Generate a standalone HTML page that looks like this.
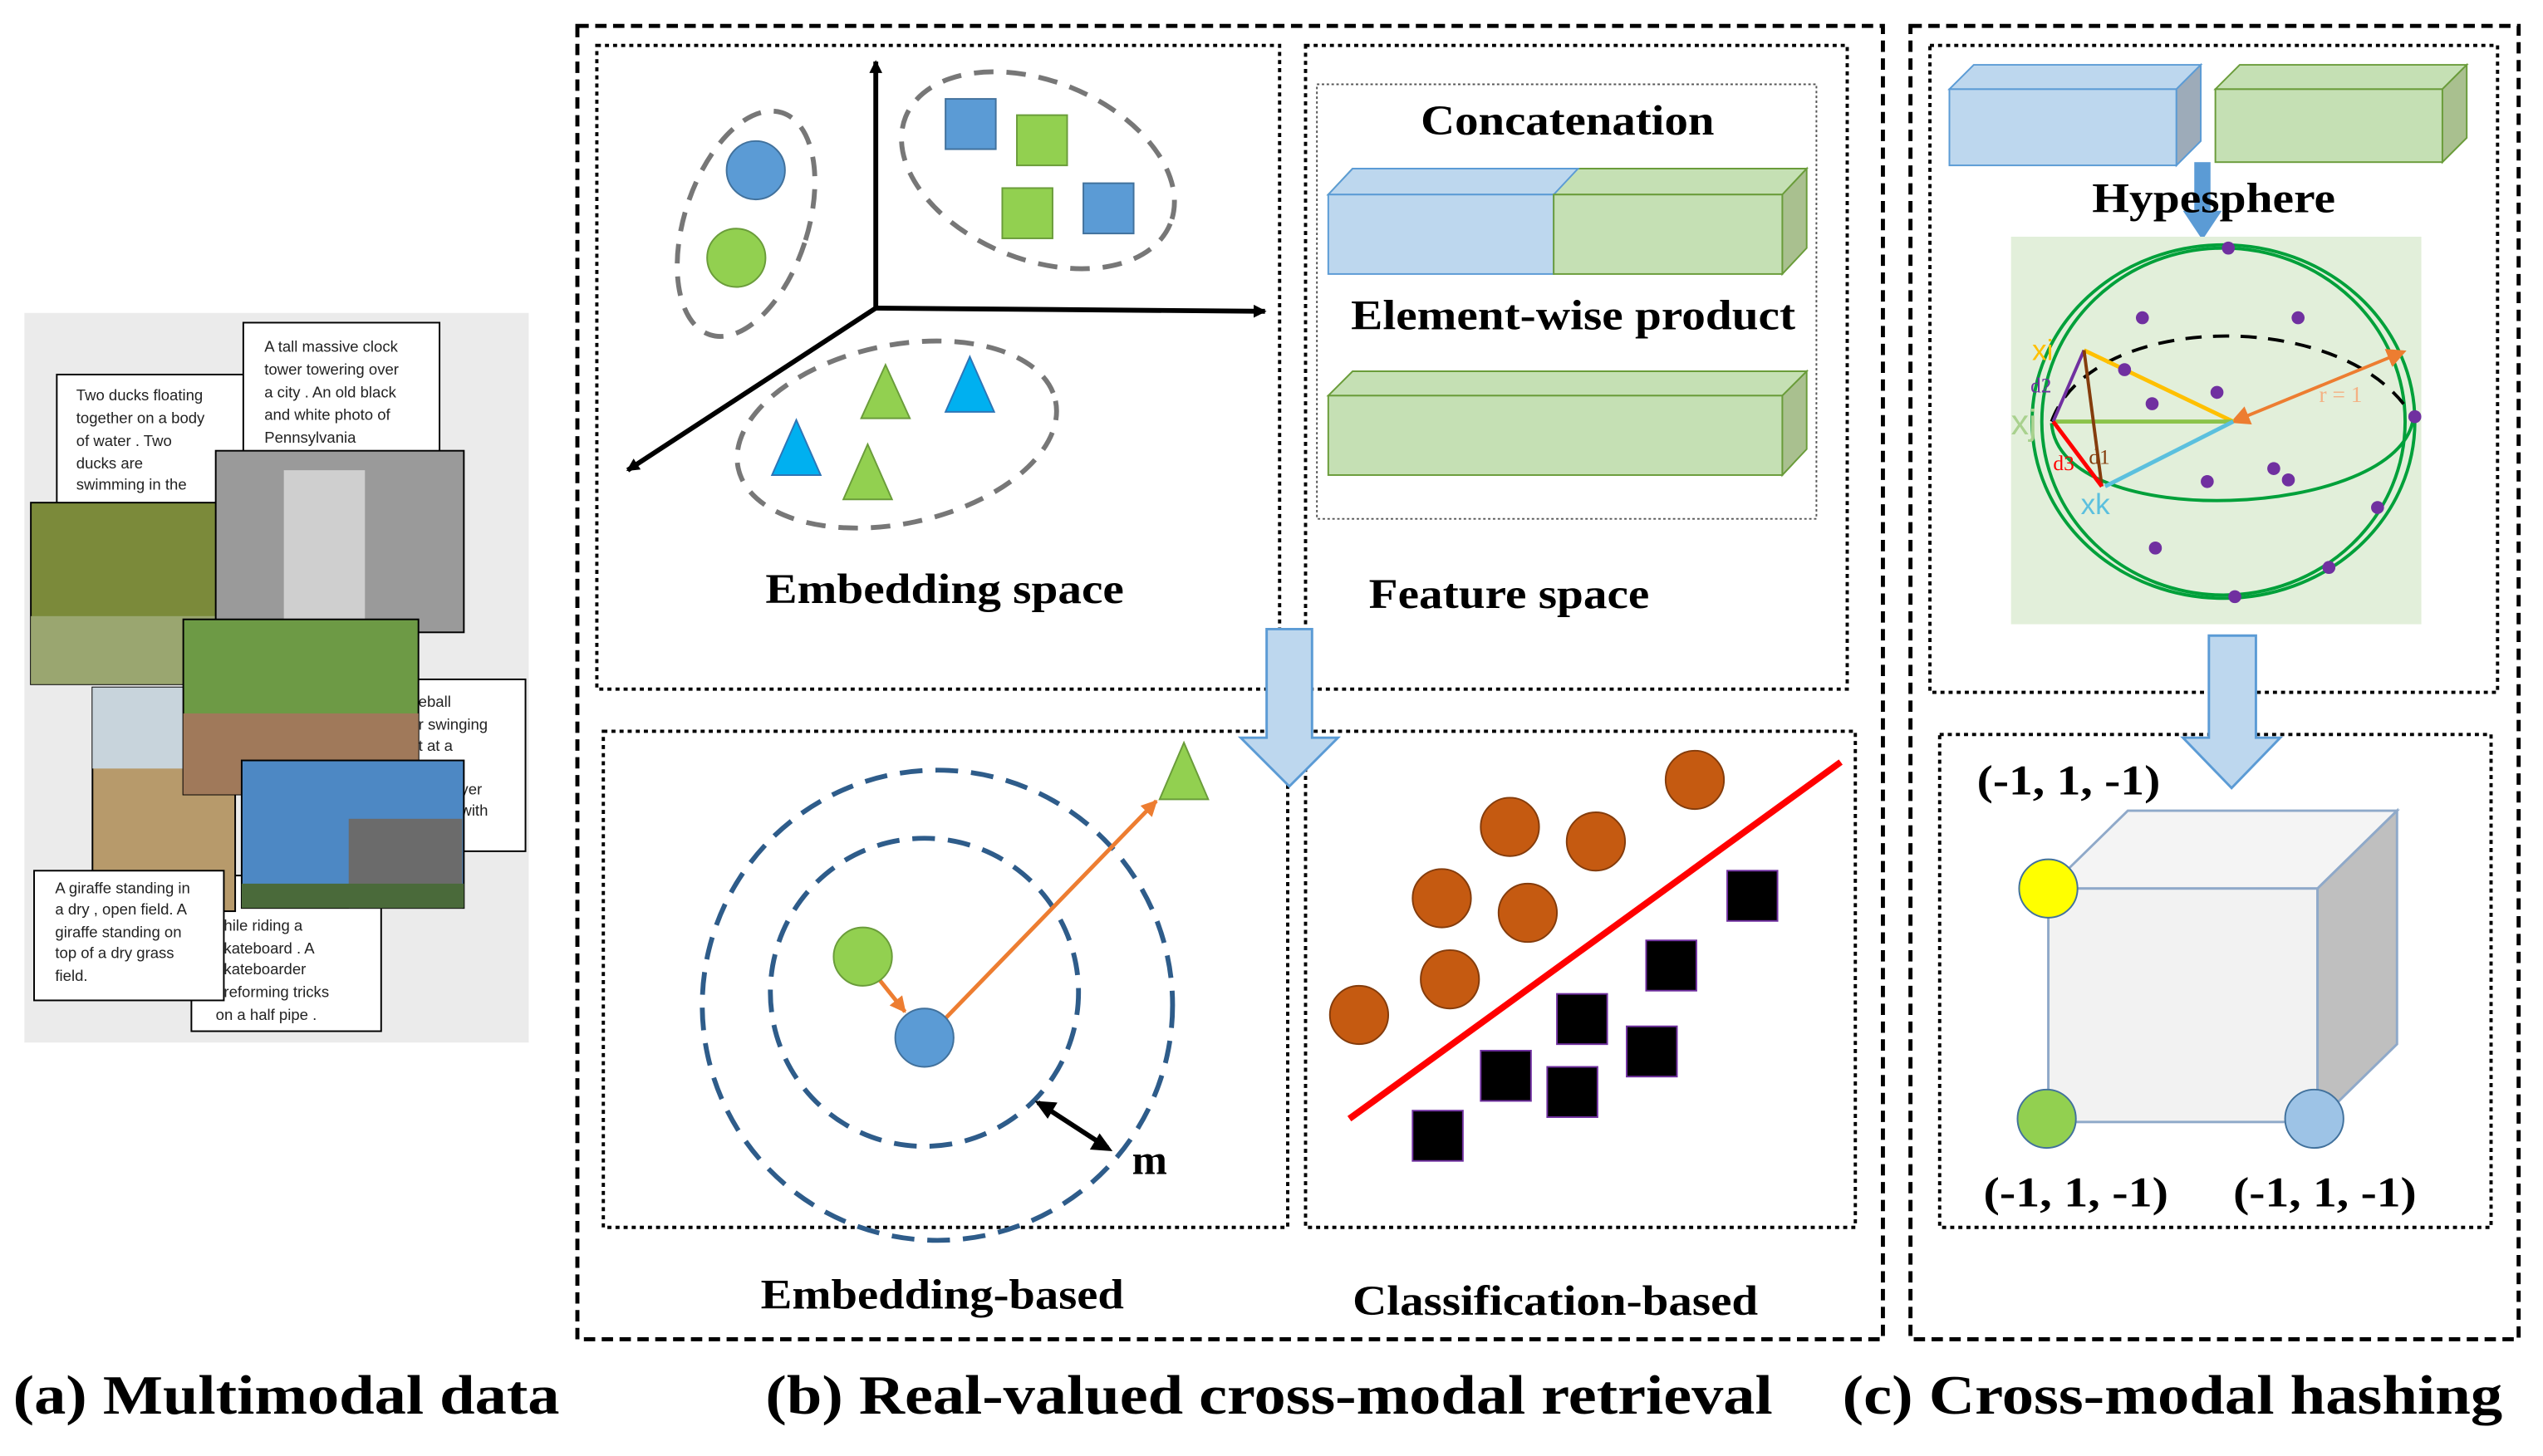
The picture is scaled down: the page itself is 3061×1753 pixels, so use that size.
<!DOCTYPE html>
<html><head><meta charset="utf-8"><style>html,body{margin:0;padding:0;background:#fff}svg{display:block}</style></head><body>
<svg width="3061" height="1753" viewBox="0 0 1568 898" xmlns="http://www.w3.org/2000/svg" font-family="'Liberation Serif',serif">
<defs>
<marker id="ab" markerWidth="8" markerHeight="8" refX="7" refY="4" orient="auto" markerUnits="userSpaceOnUse"><path d="M0,0 L8,4 L0,8z" fill="#000"/></marker>
<marker id="ao" markerWidth="10" markerHeight="10" refX="9" refY="5" orient="auto" markerUnits="userSpaceOnUse"><path d="M0,0 L10,5 L0,10z" fill="#ed7d31"/></marker>
<marker id="ao2" markerWidth="12" markerHeight="12" refX="10" refY="6" orient="auto-start-reverse" markerUnits="userSpaceOnUse"><path d="M0,0 L12,6 L0,12z" fill="#ed7d31"/></marker>
</defs>
<!-- (a) -->
<rect x="15" y="193" width="311" height="450" fill="#ebebeb"/>
<g font-family="'Liberation Sans',sans-serif" font-size="9.5" fill="#222">
<rect x="35" y="231" width="118" height="110" fill="#fff" stroke="#000"/>
<text x="47" y="247">Two ducks floating</text><text x="47" y="261">together on a body</text><text x="47" y="275">of water . Two</text><text x="47" y="289">ducks are</text><text x="47" y="302">swimming in the</text>
<rect x="150" y="199" width="121" height="110" fill="#fff" stroke="#000"/>
<text x="163" y="217">A tall massive clock</text><text x="163" y="231">tower towering over</text><text x="163" y="245">a city . An old black</text><text x="163" y="259">and white photo of</text><text x="163" y="273">Pennsylvania</text>
<rect x="240" y="419" width="84" height="106" fill="#fff" stroke="#000"/>
<text x="258" y="436">eball</text><text x="258" y="450">r swinging</text><text x="258" y="463">t at a</text><text x="284" y="490">yer</text><text x="284" y="503">with</text>
<rect x="118" y="540" width="117" height="96" fill="#fff" stroke="#000"/>
<text x="138" y="574">hile riding a</text><text x="138" y="588">kateboard . A</text><text x="138" y="601">kateboarder</text><text x="138" y="615">reforming tricks</text><text x="133" y="629">on a half pipe .</text>
</g>
<rect x="19" y="310" width="185" height="112" fill="#7b8a3a" stroke="#000"/>
<rect x="19" y="380" width="185" height="42" fill="#9aa670"/>
<rect x="133" y="278" width="153" height="112" fill="#9a9a9a" stroke="#000"/>
<rect x="175" y="290" width="50" height="100" fill="#cfcfcf"/>
<rect x="57" y="424" width="88" height="138" fill="#b79a6b" stroke="#000"/>
<rect x="57" y="424" width="88" height="50" fill="#c8d4dc"/>
<rect x="113" y="382" width="145" height="108" fill="#6d9a45" stroke="#000"/>
<rect x="113" y="440" width="145" height="50" fill="#a0795a"/>
<g font-family="'Liberation Sans',sans-serif" font-size="9.5" fill="#222">
<rect x="21" y="537" width="117" height="80" fill="#fff" stroke="#000"/>
<text x="34" y="551">A giraffe standing in</text>
<text x="34" y="564">a dry , open field. A</text><text x="34" y="578">giraffe standing on</text><text x="34" y="591">top of a dry grass</text><text x="34" y="605">field.</text>
</g>
<rect x="149" y="469" width="137" height="91" fill="#4d88c4" stroke="#000"/>
<rect x="215" y="505" width="70" height="55" fill="#6b6b6b"/>
<rect x="149" y="545" width="137" height="15" fill="#4a6a3a"/>

<!-- (b) frames -->
<rect x="356" y="16" width="805" height="810" fill="none" stroke="#000" stroke-width="2.5" stroke-dasharray="7,4"/>
<g fill="none" stroke="#000" stroke-width="2" stroke-dasharray="2.5,2.5">
<rect x="368" y="28" width="421" height="397"/>
<rect x="805" y="28" width="334" height="397"/>
<rect x="372" y="451" width="422" height="306"/>
<rect x="805" y="451" width="339" height="306"/>
<rect x="1190" y="28" width="350" height="399"/>
<rect x="1196" y="453" width="340" height="304"/>
</g>
<rect x="812" y="52" width="308" height="268" fill="none" stroke="#555" stroke-width="1" stroke-dasharray="1.5,1.5"/>
<rect x="1178" y="16" width="375" height="810" fill="none" stroke="#000" stroke-width="2.5" stroke-dasharray="7,4"/>

<!-- embedding space -->
<line x1="540" y1="190" x2="540" y2="38" stroke="#000" stroke-width="3" marker-end="url(#ab)"/>
<line x1="540" y1="190" x2="780" y2="192" stroke="#000" stroke-width="3" marker-end="url(#ab)"/>
<line x1="540" y1="190" x2="387" y2="290" stroke="#000" stroke-width="3" marker-end="url(#ab)"/>
<g fill="none" stroke="#777" stroke-width="3" stroke-dasharray="12,8">
<ellipse cx="460" cy="138" rx="38" ry="72" transform="rotate(18 460 138)"/>
<ellipse cx="640" cy="105" rx="88" ry="55" transform="rotate(22 640 105)"/>
<ellipse cx="553" cy="268" rx="100" ry="55" transform="rotate(-12 553 268)"/>
</g>
<circle cx="466" cy="105" r="18" fill="#5b9bd5" stroke="#41719c"/>
<circle cx="454" cy="159" r="18" fill="#92d050" stroke="#6a9c3a"/>
<rect x="583" y="61" width="31" height="31" fill="#5b9bd5" stroke="#41719c"/>
<rect x="627" y="71" width="31" height="31" fill="#92d050" stroke="#6a9c3a"/>
<rect x="618" y="116" width="31" height="31" fill="#92d050" stroke="#6a9c3a"/>
<rect x="668" y="113" width="31" height="31" fill="#5b9bd5" stroke="#41719c"/>
<path d="M546,225 L561,258 L531,258z" fill="#92d050" stroke="#6a9c3a"/>
<path d="M598,220 L613,254 L583,254z" fill="#00b0f0" stroke="#2e75b6"/>
<path d="M491,259 L506,293 L476,293z" fill="#00b0f0" stroke="#2e75b6"/>
<path d="M535,274 L550,308 L520,308z" fill="#92d050" stroke="#6a9c3a"/>
<text x="472" y="372" font-size="26" font-weight="bold" textLength="221" lengthAdjust="spacingAndGlyphs">Embedding space</text>

<!-- feature space -->
<text x="876" y="83" font-size="26" font-weight="bold" textLength="181" lengthAdjust="spacingAndGlyphs">Concatenation</text>
<path d="M819,120 L834,104 L1114,104 L1099,120z" fill="#c5e0b4" stroke="#6a9c3a"/>
<path d="M819,120 L834,104 L973,104 L958,120z" fill="#bdd7ee" stroke="#5b9bd5"/>
<rect x="819" y="120" width="139" height="49" fill="#bdd7ee" stroke="#5b9bd5"/>
<rect x="958" y="120" width="141" height="49" fill="#c5e0b4" stroke="#6a9c3a"/>
<path d="M1099,120 L1114,104 L1114,153 L1099,169z" fill="#a9c08f" stroke="#6a9c3a"/>
<text x="833" y="203" font-size="26" font-weight="bold" textLength="274" lengthAdjust="spacingAndGlyphs">Element-wise product</text>
<path d="M819,244 L834,229 L1114,229 L1099,244z" fill="#c5e0b4" stroke="#6a9c3a"/>
<rect x="819" y="244" width="280" height="49" fill="#c5e0b4" stroke="#6a9c3a"/>
<path d="M1099,244 L1114,229 L1114,277 L1099,293z" fill="#a9c08f" stroke="#6a9c3a"/>
<text x="844" y="375" font-size="26" font-weight="bold" textLength="173" lengthAdjust="spacingAndGlyphs">Feature space</text>

<!-- down arrow b -->
<path d="M781,388 L809,388 L809,455 L825,455 L795,485 L765,455 L781,455z" fill="#bdd7ee" stroke="#5b9bd5" stroke-width="1.5"/>

<!-- embedding based -->
<circle cx="578" cy="620" r="145" fill="none" stroke="#2e5c8a" stroke-width="3" stroke-dasharray="14,8"/>
<circle cx="570" cy="612" r="95" fill="none" stroke="#2e5c8a" stroke-width="3" stroke-dasharray="14,8"/>
<line x1="538" y1="599" x2="558" y2="624" stroke="#ed7d31" stroke-width="2.5" marker-end="url(#ao)"/>
<line x1="583" y1="628" x2="713" y2="494" stroke="#ed7d31" stroke-width="2.5" marker-end="url(#ao)"/>
<circle cx="532" cy="590" r="18" fill="#92d050" stroke="#6a9c3a"/>
<circle cx="570" cy="640" r="18" fill="#5b9bd5" stroke="#41719c"/>
<path d="M730,458 L745,493 L715,493z" fill="#92d050" stroke="#6a9c3a"/>
<line x1="640" y1="680" x2="683" y2="708" stroke="#000" stroke-width="3"/>
<path d="M638,679 L652,680 L646,690z M686,710 L672,709 L678,699z" fill="#000"/>
<text x="698" y="724" font-size="26" font-weight="bold">m</text>
<text x="469" y="807" font-size="26" font-weight="bold" textLength="224" lengthAdjust="spacingAndGlyphs">Embedding-based</text>

<!-- classification -->
<line x1="832" y1="690" x2="1135" y2="470" stroke="#f00" stroke-width="4"/>
<g fill="#c55a11" stroke="#843c0c" stroke-width="1">
<circle cx="1045" cy="481" r="18"/><circle cx="931" cy="510" r="18"/><circle cx="984" cy="519" r="18"/>
<circle cx="889" cy="554" r="18"/><circle cx="942" cy="563" r="18"/><circle cx="894" cy="604" r="18"/><circle cx="838" cy="626" r="18"/>
</g>
<g fill="#000" stroke="#7030a0" stroke-width="1">
<rect x="1065" y="537" width="31" height="31"/><rect x="1015" y="580" width="31" height="31"/><rect x="960" y="613" width="31" height="31"/>
<rect x="1003" y="633" width="31" height="31"/><rect x="913" y="648" width="31" height="31"/><rect x="954" y="658" width="31" height="31"/><rect x="871" y="685" width="31" height="31"/>
</g>
<text x="834" y="811" font-size="26" font-weight="bold" textLength="250" lengthAdjust="spacingAndGlyphs">Classification-based</text>

<!-- (c) hashing -->
<path d="M1202,55 L1217,40 L1357,40 L1342,55z" fill="#bdd7ee" stroke="#5b9bd5"/>
<rect x="1202" y="55" width="140" height="47" fill="#bdd7ee" stroke="#5b9bd5"/>
<path d="M1342,55 L1357,40 L1357,87 L1342,102z" fill="#9dabb9" stroke="#5b9bd5"/>
<path d="M1366,55 L1381,40 L1521,40 L1506,55z" fill="#c5e0b4" stroke="#6a9c3a"/>
<rect x="1366" y="55" width="140" height="45" fill="#c5e0b4" stroke="#6a9c3a"/>
<path d="M1506,55 L1521,40 L1521,85 L1506,100z" fill="#a9c08f" stroke="#6a9c3a"/>
<rect x="1353" y="100" width="10" height="30" fill="#5b9bd5"/>
<path d="M1346,130 L1370,130 L1358,148z" fill="#5b9bd5"/>
<text x="1290" y="131" font-size="26" font-weight="bold" textLength="150" lengthAdjust="spacingAndGlyphs">Hypesphere</text>
<rect x="1240" y="146" width="253" height="239" fill="#e2efda"/>
<g fill="none" stroke="#00a03a" stroke-width="2">
<ellipse cx="1371" cy="260" rx="118" ry="109"/>
<ellipse cx="1371" cy="260" rx="112" ry="107"/>
<path d="M1265,261 C1270,330 1480,320 1488,258"/>
</g>
<path d="M1265,260 C1290,190 1450,190 1488,258" fill="none" stroke="#000" stroke-width="2" stroke-dasharray="10,7"/>
<line x1="1377" y1="260" x2="1482" y2="217" stroke="#ed7d31" stroke-width="2" marker-start="url(#ao2)" marker-end="url(#ao2)"/>
<text x="1430" y="248" font-size="14" fill="#f4b183">r = 1</text>
<line x1="1285" y1="216" x2="1377" y2="260" stroke="#ffc000" stroke-width="2.5"/>
<line x1="1266" y1="260" x2="1377" y2="260" stroke="#8bc34a" stroke-width="2.5"/>
<line x1="1298" y1="300" x2="1377" y2="260" stroke="#5bc0de" stroke-width="2.5"/>
<line x1="1285" y1="216" x2="1266" y2="260" stroke="#7030a0" stroke-width="2"/>
<line x1="1285" y1="216" x2="1296" y2="300" stroke="#843c0c" stroke-width="2"/>
<line x1="1266" y1="260" x2="1296" y2="300" stroke="#f00" stroke-width="2.5"/>
<g font-family="'Liberation Sans',sans-serif">
<text x="1253" y="222" font-size="18" fill="#ffc000">xi</text>
<text x="1240" y="268" font-size="22" fill="#a9d18e">xj</text>
<text x="1283" y="317" font-size="18" fill="#5bc0de">xk</text>
</g>
<text x="1252" y="242" font-size="13" fill="#7030a0">d2</text>
<text x="1288" y="286" font-size="13" fill="#843c0c">d1</text>
<text x="1266" y="290" font-size="13" fill="#f00">d3</text>
<g fill="#7030a0">
<circle cx="1374" cy="153" r="4"/><circle cx="1417" cy="196" r="4"/><circle cx="1321" cy="196" r="4"/>
<circle cx="1327" cy="249" r="4"/><circle cx="1367" cy="242" r="4"/><circle cx="1489" cy="257" r="4"/>
<circle cx="1402" cy="289" r="4"/><circle cx="1310" cy="228" r="4"/><circle cx="1361" cy="297" r="4"/>
<circle cx="1411" cy="296" r="4"/><circle cx="1466" cy="313" r="4"/><circle cx="1329" cy="338" r="4"/>
<circle cx="1436" cy="350" r="4"/><circle cx="1378" cy="368" r="4"/>
</g>
<path d="M1362,392 L1391,392 L1391,455 L1406,455 L1376,486 L1346,455 L1362,455z" fill="#bdd7ee" stroke="#5b9bd5" stroke-width="1.5"/>
<!-- cube -->
<path d="M1263,548 L1312,500 L1478,500 L1429,548z" fill="#f4f4f4" stroke="#8fa9c9" stroke-width="1.5"/>
<rect x="1263" y="548" width="166" height="144" fill="#f2f2f2" stroke="#8fa9c9" stroke-width="1.5"/>
<path d="M1429,548 L1478,500 L1478,644 L1429,692z" fill="#bfbfbf" stroke="#8fa9c9" stroke-width="1.5"/>
<circle cx="1263" cy="548" r="18" fill="#ffff00" stroke="#41719c"/>
<circle cx="1262" cy="690" r="18" fill="#92d050" stroke="#41719c"/>
<circle cx="1427" cy="690" r="18" fill="#9dc3e6" stroke="#41719c"/>
<text x="1219" y="490" font-size="26" font-weight="bold" textLength="113" lengthAdjust="spacingAndGlyphs">(-1, 1, -1)</text>
<text x="1223" y="744" font-size="26" font-weight="bold" textLength="114" lengthAdjust="spacingAndGlyphs">(-1, 1, -1)</text>
<text x="1377" y="744" font-size="26" font-weight="bold" textLength="113" lengthAdjust="spacingAndGlyphs">(-1, 1, -1)</text>

<!-- captions -->
<g font-size="34" font-weight="bold">
<text x="8" y="872" textLength="337" lengthAdjust="spacingAndGlyphs">(a) Multimodal data</text>
<text x="472" y="872" textLength="621" lengthAdjust="spacingAndGlyphs">(b) Real-valued cross-modal retrieval</text>
<text x="1136" y="872" textLength="407" lengthAdjust="spacingAndGlyphs">(c) Cross-modal hashing</text>
</g>
</svg>
</body></html>
